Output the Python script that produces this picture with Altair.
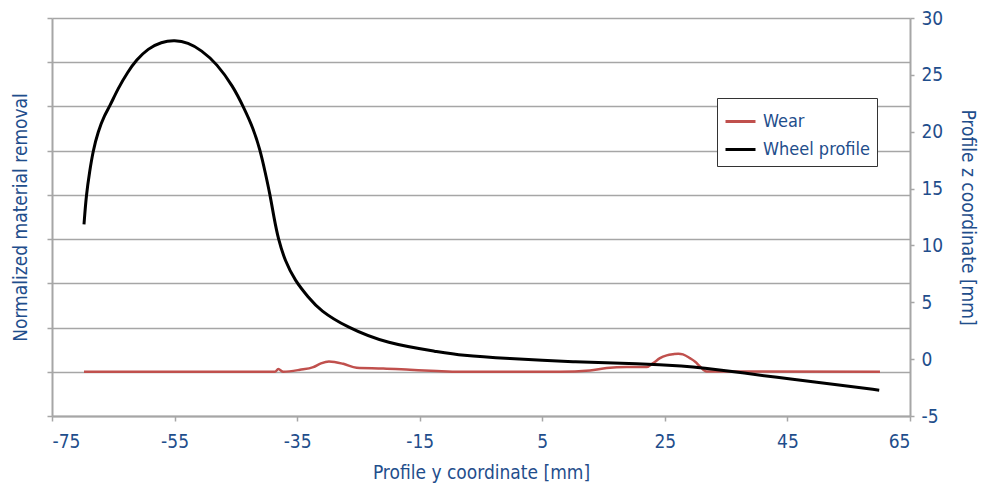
import altair as alt
import pandas as pd

# Wheel profile (right axis, mm)
wheel_y = [-69.78, -69.40, -68.85, -68.31, -67.49, -66.40, -65.59, -64.23, -62.60, -61.25,
           -59.34, -57.17, -54.98, -52.81, -50.64, -48.13, -45.42, -43.79, -42.16, -41.06,
           -40.25, -39.43, -38.78, -38.08, -36.98, -35.35, -33.18, -31.27, -26.92, -20.39,
           -11.7, -8.43, -0.81, 10.0, 20.94, 28.56, 30.73, 37.79, 45.95, 53.6, 59.98]
wheel_z = [11.86, 14.49, 16.53, 18.28, 20.03, 21.49, 22.21, 23.81, 25.28, 26.30,
           27.31, 27.90, 28.05, 27.84, 27.17, 26.00, 23.96, 22.21, 20.31, 18.42,
           16.53, 14.49, 12.44, 10.55, 8.65, 6.90, 5.44, 4.28, 2.81, 1.36,
           0.63, 0.34, 0.05, -0.25, -0.39, -0.63, -0.74, -1.21, -1.79, -2.29, -2.73]

# Wear (left axis, normalized material removal)
wear_y = [-69.78, -38.62, -38.08, -37.26, -34.54, -32.37, -31.11, -29.81, -27.47, -25.29,
          -20.95, -16.59, -12.23, -8.43, 7.88, 12.78, 15.5, 18.77, 22.03, 23.11, 24.2,
          25.3, 26.37, 27.2, 27.95, 29.09, 30.0, 30.73, 31.82, 60.1]
wear_v = [0.0, 0.0, 0.06, 0.0, 0.045, 0.106, 0.19, 0.232, 0.18, 0.09,
          0.074, 0.045, 0.016, 0.0, 0.0, 0.03, 0.083, 0.106, 0.106, 0.196, 0.308,
          0.37, 0.398, 0.41, 0.394, 0.308, 0.22, 0.119, 0.007, 0.0]

x_ticks = [-75, -55, -35, -15, 5, 25, 45, 65]
z_ticks = [-5, 0, 5, 10, 15, 20, 25, 30]
left_ticks = [-1, 0, 1, 2, 3, 4, 5, 6, 7, 8]

wheel_df = pd.DataFrame({"y": wheel_y, "z": wheel_z, "series": "Wheel profile", "o": range(len(wheel_y))})
wear_df = pd.DataFrame({"y": wear_y, "v": wear_v, "series": "Wear", "o": range(len(wear_y))})

FONT = "DejaVu Sans Condensed"
BLUE = "#1f4e8c"
GRID = "#a6a6a6"

color = alt.Color("series:N",
                  scale=alt.Scale(domain=["Wear", "Wheel profile"], range=["#c0504d", "#000000"]),
                  legend=alt.Legend(title=None, orient="none", legendX=665, legendY=80,
                                    fillColor="white", strokeColor="#333333", padding=7,
                                    symbolType="stroke", symbolSize=900, symbolStrokeWidth=3,
                                    labelFont=FONT, labelFontSize=18, labelColor=BLUE,
                                    rowPadding=2, labelOffset=6))

xenc = alt.X("y:Q", scale=alt.Scale(domain=[-75, 65], nice=False),
             axis=alt.Axis(values=x_ticks, title="Profile y coordinate [mm]", grid=False,
                           tickSize=5, labelPadding=11, titlePadding=12,
                           labelExpr="datum.value + ''"))

wear = alt.Chart(wear_df).mark_line(strokeWidth=2.5, interpolate="monotone").encode(
    x=xenc,
    y=alt.Y("v:Q", scale=alt.Scale(domain=[-1, 8], nice=False, zero=False),
            axis=alt.Axis(values=left_ticks, labels=False, title="Normalized material removal",
                          grid=True, gridColor=GRID, gridWidth=1.5, tickSize=5, titlePadding=16,
                          orient="left")),
    color=color,
    order="o:Q",
)

wheel = alt.Chart(wheel_df).mark_line(strokeWidth=3, interpolate="basis").encode(
    x=xenc,
    y=alt.Y("z:Q", scale=alt.Scale(domain=[-5, 30], nice=False, zero=False),
            axis=alt.Axis(values=z_ticks, title="Profile z coordinate [mm]", grid=False,
                          orient="right", tickSize=4, labelPadding=7, titlePadding=15,
                          labelExpr="datum.value + ''")),
    color=color,
    order="o:Q",
)

chart = alt.layer(wear, wheel).resolve_scale(y="independent").properties(
    width=858, height=398,
    autosize=alt.AutoSizeParams(type="none"),
    padding={"left": 44, "top": 10, "right": 76, "bottom": 68},
).configure_view(stroke=None).configure_axis(
    labelFont=FONT, titleFont=FONT, labelFontSize=19, titleFontSize=19,
    labelColor=BLUE, titleColor=BLUE, titleFontWeight="normal",
    domainColor=GRID, domainWidth=2, tickColor=GRID, tickWidth=1.5,
)

chart.save("out.html", embed_options={"renderer": "svg", "actions": False})
